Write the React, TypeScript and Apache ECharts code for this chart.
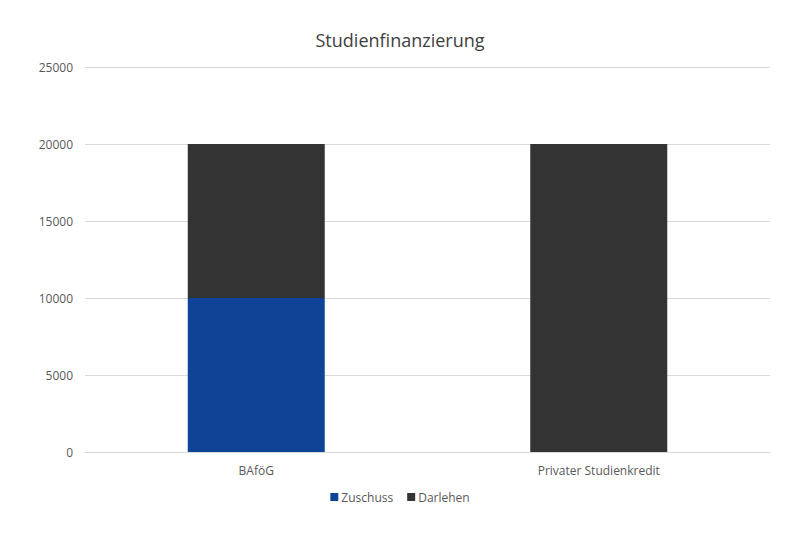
import { useEffect, useRef } from "react";
import * as echarts from "echarts";

const categories = ["BAföG", "Privater Studienkredit"];
const zuschuss = [10000, 0];
const darlehen = [10000, 20000];
const seriesNames = ["Zuschuss", "Darlehen"];
const colors = ["#0e4395", "#333333"];

const FONT = "'Open Sans', 'Noto Sans', sans-serif";

export default function App() {
  const ref = useRef<HTMLDivElement>(null);

  useEffect(() => {
    if (!ref.current) return;
    const chart = echarts.init(ref.current, undefined, { renderer: "svg" });
    chart.setOption({
      animation: false,
      backgroundColor: "#ffffff",
      textStyle: { fontFamily: FONT },
      title: {
        text: "Studienfinanzierung",
        left: "center",
        top: 26,
        textStyle: { fontFamily: FONT, fontSize: 18, fontWeight: "normal", color: "#404040" },
      },
      legend: {
        data: seriesNames,
        top: 486,
        left: "center",
        itemWidth: 8,
        itemHeight: 8,
        itemGap: 14,
        icon: "rect",
        textStyle: { fontFamily: FONT, fontSize: 12, color: "#595959", padding: [0, 0, 0, -2] },
      },
      grid: { left: 85, right: 30, top: 67, bottom: 98, containLabel: false },
      xAxis: {
        type: "category",
        data: categories,
        axisLine: { show: true, lineStyle: { color: "#d9d9d9" } },
        axisTick: { show: false },
        axisLabel: { fontFamily: FONT, fontSize: 12, color: "#595959", margin: 12 },
      },
      yAxis: {
        type: "value",
        min: 0,
        max: 25000,
        interval: 5000,
        axisLine: { show: false },
        axisTick: { show: false },
        splitLine: { lineStyle: { color: "#d9d9d9" } },
        axisLabel: {
          fontFamily: FONT,
          fontSize: 12,
          color: "#595959",
          margin: 12,
          formatter: (v: number) => String(v),
        },
      },
      series: [
        {
          name: seriesNames[0],
          type: "bar",
          stack: "total",
          barWidth: "40%",
          data: zuschuss,
          itemStyle: { color: colors[0] },
        },
        {
          name: seriesNames[1],
          type: "bar",
          stack: "total",
          barWidth: "40%",
          data: darlehen,
          itemStyle: { color: colors[1] },
        },
      ],
    });
    return () => chart.dispose();
  }, []);

  return (
    <div
      ref={ref}
      style={{ position: "absolute", left: 0, top: 0, width: 800, height: 550 }}
    />
  );
}
